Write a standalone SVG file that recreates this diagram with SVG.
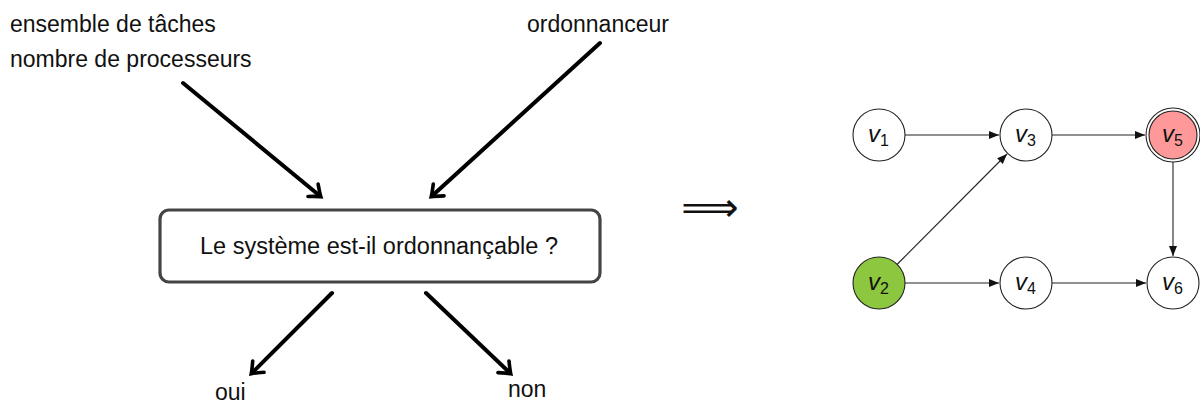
<svg xmlns="http://www.w3.org/2000/svg" width="1200" height="403" viewBox="0 0 1200 403">
<style>
.lbl{font-family:"Liberation Sans","DejaVu Sans",sans-serif;font-size:23px;fill:#111}
.big{stroke:#000;stroke-width:4;fill:none;stroke-linecap:round}
.thin{stroke:#222;stroke-width:1.1;fill:none}
.node{stroke:#222;stroke-width:1.1;fill:#fff}
.nl{font-family:"Liberation Sans","DejaVu Sans",sans-serif;font-style:italic;font-size:24px;fill:#111}
.sub{font-style:normal;font-size:16px}
</style>
<defs>
<marker id="to" markerUnits="userSpaceOnUse" markerWidth="24" markerHeight="24" viewBox="-12 -12 24 24" refX="0" refY="0" orient="auto">
<path d="M-9,-8 Q-2,-2 1,0 Q-2,2 -9,8" fill="none" stroke="#000" stroke-width="3.6" stroke-linecap="round"/>
</marker>
<marker id="tri" markerUnits="userSpaceOnUse" markerWidth="14" markerHeight="14" viewBox="-12 -6 14 12" refX="0" refY="0" orient="auto">
<path d="M-10,-4 L0,0 L-10,4 Z" fill="#111"/>
</marker>
</defs>
<g id="labels">
<text class="lbl" x="10" y="32">ensemble de tâches</text>
<text class="lbl" x="10" y="67">nombre de processeurs</text>
<text class="lbl" x="527" y="32">ordonnanceur</text>
<text class="lbl" x="215" y="400">oui</text>
<text class="lbl" x="508" y="397">non</text>
</g>
<g id="question">
<rect x="160" y="210" width="440" height="72" rx="9" fill="#fff" stroke="#444" stroke-width="3.2"/>
<text class="lbl" x="379" y="254" text-anchor="middle" style="font-size:23.5px">Le système est-il ordonnançable ?</text>
</g>
<g id="implies">
<text x="710" y="221" text-anchor="middle" font-family="DejaVu Sans" font-size="40" fill="#111">⟹</text>
</g>
<g id="connectors">
<line class="big" x1="183" y1="83" x2="320" y2="196" marker-end="url(#to)"/>
<line class="big" x1="600" y1="43" x2="432" y2="196" marker-end="url(#to)"/>
<line class="big" x1="332" y1="293" x2="252" y2="373" marker-end="url(#to)"/>
<line class="big" x1="426" y1="293" x2="510" y2="373" marker-end="url(#to)"/>
<line class="thin" x1="905" y1="135" x2="999" y2="135" marker-end="url(#tri)"/>
<line class="thin" x1="1052" y1="135" x2="1145" y2="135" marker-end="url(#tri)"/>
<line class="thin" x1="897" y1="264.5" x2="1007" y2="154" marker-end="url(#tri)"/>
<line class="thin" x1="905" y1="283" x2="999" y2="283" marker-end="url(#tri)"/>
<line class="thin" x1="1052" y1="283" x2="1146" y2="283" marker-end="url(#tri)"/>
<line class="thin" x1="1173" y1="162" x2="1173" y2="256" marker-end="url(#tri)"/>
</g>
<g id="v1"><circle class="node" cx="879" cy="135" r="26"/><text class="nl" x="868" y="142">v<tspan class="sub" dy="4">1</tspan></text></g>
<g id="v3"><circle class="node" cx="1026" cy="135" r="26"/><text class="nl" x="1015" y="142">v<tspan class="sub" dy="4">3</tspan></text></g>
<g id="v5"><circle class="node" cx="1173" cy="135" r="27" fill="#fff"/><circle class="node" cx="1173" cy="135" r="24" style="fill:#ff9999"/><text class="nl" x="1162" y="142">v<tspan class="sub" dy="4">5</tspan></text></g>
<g id="v2"><circle class="node" cx="879" cy="283" r="26" style="fill:#8dc63f"/><text class="nl" x="868" y="290">v<tspan class="sub" dy="4">2</tspan></text></g>
<g id="v4"><circle class="node" cx="1026" cy="283" r="26"/><text class="nl" x="1015" y="290">v<tspan class="sub" dy="4">4</tspan></text></g>
<g id="v6"><circle class="node" cx="1173" cy="283" r="26"/><text class="nl" x="1162" y="290">v<tspan class="sub" dy="4">6</tspan></text></g>
</svg>
